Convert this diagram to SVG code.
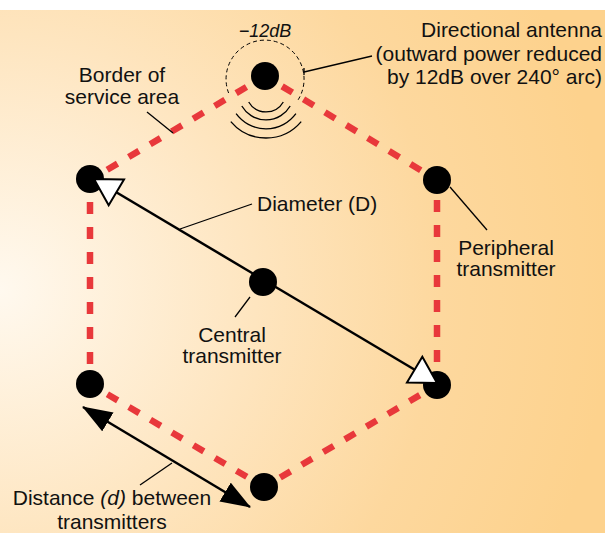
<svg xmlns="http://www.w3.org/2000/svg" width="605" height="533" viewBox="0 0 605 533">
<defs>
<radialGradient id="bg" gradientUnits="userSpaceOnUse" cx="0" cy="290" r="610">
<stop offset="0" stop-color="#FFF9EF"/>
<stop offset="0.42" stop-color="#FEE5BF"/>
<stop offset="0.72" stop-color="#FDD89E"/>
<stop offset="1" stop-color="#FDD28D"/>
</radialGradient>
<marker id="openArrow" viewBox="-3 -3 32 36" markerWidth="32" markerHeight="36" refX="26" refY="15" orient="auto-start-reverse" markerUnits="userSpaceOnUse">
<path d="M26,15 L0,0 L0,30 Z" fill="#fff" stroke="#000" stroke-width="2" stroke-linejoin="miter"/>
</marker>
<marker id="solidArrow" viewBox="0 0 30 22" markerWidth="30" markerHeight="22" refX="29" refY="11" orient="auto-start-reverse" markerUnits="userSpaceOnUse">
<path d="M30,11 L0,0 L0,22 Z" fill="#000"/>
</marker>
</defs>
<style>
text{font-family:"Liberation Sans",Arial,sans-serif;font-size:21px;fill:#111}
.edge{stroke:#E8383B;stroke-width:6.5;stroke-dasharray:12 13;fill:none}
.node{fill:#000}
.lead{stroke:#000;stroke-width:1.3;fill:none}
.arrow{stroke:#000;stroke-width:2.5;fill:none}
.wave{stroke:#000;stroke-width:1.3;fill:none}
</style>
<rect x="0" y="0" width="605" height="533" fill="#fff"/>
<rect x="0" y="10" width="605" height="523" fill="url(#bg)"/>

<g id="service-border">
<line class="edge" x1="265" y1="76" x2="437" y2="180" stroke-dashoffset="5"/>
<line class="edge" x1="437" y1="180" x2="437" y2="385" stroke-dashoffset="5"/>
<line class="edge" x1="437" y1="385" x2="264" y2="487" stroke-dashoffset="5"/>
<line class="edge" x1="264" y1="487" x2="90" y2="384" stroke-dashoffset="5"/>
<line class="edge" x1="90" y1="384" x2="90" y2="180" stroke-dashoffset="5"/>
<line class="edge" x1="90" y1="180" x2="265" y2="76" stroke-dashoffset="5"/>
</g>

<g id="node-top">
<path d="M228.6,93 A39 39 0 1 1 298,100" fill="none" stroke="#000" stroke-width="1" stroke-dasharray="4 3"/>
<path class="wave" d="M248.7,102 A20 20 0 0 0 283.3,102"/>
<path class="wave" d="M241.8,106 A28 28 0 0 0 290.2,106"/>
<path class="wave" d="M236.1,113.7 A37 37 0 0 0 295.9,113.7"/>
<path class="wave" d="M230.8,121.6 A46 46 0 0 0 301.2,121.6"/>
<circle class="node" cx="265" cy="76" r="14"/>
<text x="265" y="37" text-anchor="middle" font-style="italic" style="font-size:18px">−12dB</text>
</g>
<g id="node-upper-left"><circle class="node" cx="90" cy="179" r="14"/></g>
<g id="node-upper-right"><circle class="node" cx="437" cy="180" r="14"/></g>
<g id="node-center"><circle class="node" cx="263" cy="282" r="14"/></g>
<g id="node-lower-left"><circle class="node" cx="90" cy="384" r="14"/></g>
<g id="node-lower-right"><circle class="node" cx="437" cy="385" r="14"/></g>
<g id="node-bottom"><circle class="node" cx="264" cy="487" r="14"/></g>

<g id="connectors">
<line class="arrow" x1="94" y1="179" x2="437" y2="383" marker-start="url(#openArrow)" marker-end="url(#openArrow)"/>
<line class="arrow" x1="83" y1="407" x2="250" y2="507" marker-start="url(#solidArrow)" marker-end="url(#solidArrow)"/>
<line class="lead" x1="147" y1="112" x2="173" y2="133"/>
<line class="lead" x1="304" y1="72" x2="372" y2="56"/>
<line class="lead" x1="304" y1="68" x2="304" y2="75"/>
<line class="lead" x1="180" y1="229" x2="252" y2="204"/>
<line class="lead" x1="250" y1="297" x2="235" y2="317"/>
<line class="lead" x1="450" y1="187" x2="487" y2="230"/>
<line class="lead" x1="140" y1="485" x2="172" y2="463"/>
</g>

<g id="labels">
<text x="122" y="82" text-anchor="middle">Border of</text>
<text x="122" y="104" text-anchor="middle">service area</text>
<text x="602" y="37" text-anchor="end">Directional antenna</text>
<text x="602" y="60.5" text-anchor="end">(outward power reduced</text>
<text x="602" y="84" text-anchor="end">by 12dB over 240° arc)</text>
<text x="257" y="211">Diameter (D)</text>
<text x="232" y="342" text-anchor="middle">Central</text>
<text x="232" y="363" text-anchor="middle">transmitter</text>
<text x="506" y="255" text-anchor="middle">Peripheral</text>
<text x="506" y="276" text-anchor="middle">transmitter</text>
<text x="112" y="505" text-anchor="middle">Distance <tspan font-style="italic">(d)</tspan> between</text>
<text x="112" y="529" text-anchor="middle">transmitters</text>
</g>
</svg>
